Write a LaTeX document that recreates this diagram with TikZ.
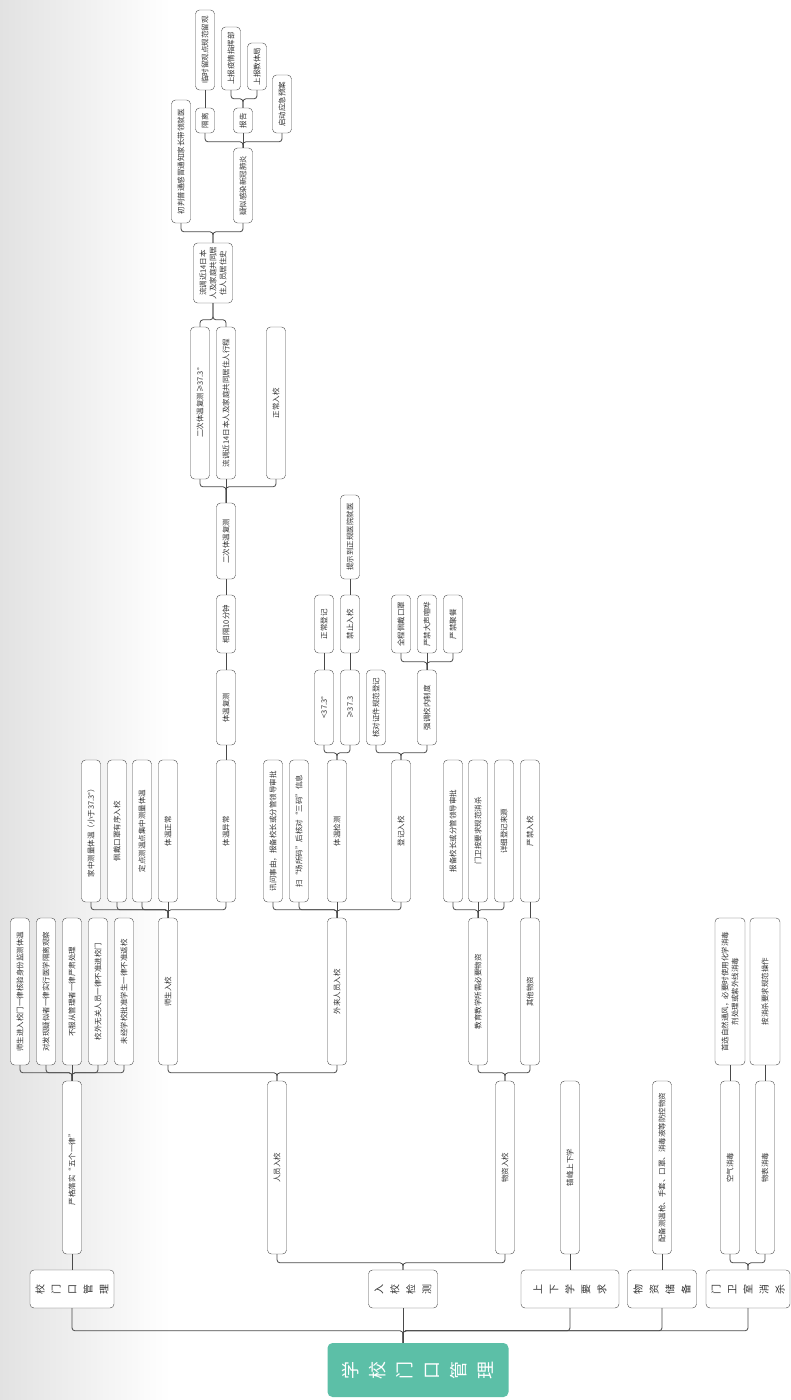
\documentclass[tikz,border=0pt]{standalone}
\usepackage{fontspec}
\newfontfamily\cjk{Noto Sans CJK SC}
\definecolor{ink}{HTML}{333333}
\definecolor{linkgray}{HTML}{4A4A4A}
\definecolor{rootgreen}{HTML}{5CBFA7}
\definecolor{shadegray}{HTML}{E2E2E2}
\tikzset{
  leaf/.style={draw=linkgray, rounded corners=4pt, thin, fill=white, rotate=90, align=center, inner sep=2pt, minimum height=19pt, font=\cjk\fontsize{7.5}{10}\selectfont, text=ink},
  wideleaf/.style={leaf, minimum height=30pt},
  topic/.style={leaf, minimum width=38pt, font=\cjk\fontsize{10}{16}\selectfont},
  rootbox/.style={fill=rootgreen, rounded corners=5pt, rotate=90, align=center, minimum width=54pt, minimum height=181pt, font=\cjk\fontsize{18}{27}\selectfont, text=white},
  link/.style={draw=linkgray, line width=0.8pt, rounded corners=3pt}
}
\begin{document}
\begin{tikzpicture}[x=1pt,y=-1pt]
\fill[white] (0,0) rectangle (791,1400);
\shade[left color=shadegray, right color=white] (0,0) rectangle (170,1400);
\useasboundingbox (0,0) rectangle (791,1400);
\node[rootbox] (root) at (418,1370) {学\\校\\门\\口\\管\\理};
\node[topic, minimum height=84pt] (gate) at (72,1289) {校\\门\\口\\管\\理};
\node[topic, minimum height=69pt] (check) at (403,1289) {入\\校\\检\\测};
\node[topic, minimum height=98pt] (commute) at (570,1289) {上\\下\\学\\要\\求};
\node[topic, minimum height=69pt] (stock) at (662,1289) {物\\资\\储\\备};
\node[topic, minimum height=84pt] (guard) at (748,1289) {门\\卫\\室\\消\\杀};
\draw[link] (check.west |- root.east) -- (check.west);
\draw[link] (check.west |- root.east) -- ++(0,-12) -| (gate.west);
\draw[link] (check.west |- root.east) -- ++(0,-12) -| (commute.west);
\draw[link] (check.west |- root.east) -- ++(0,-12) -| (stock.west);
\draw[link] (check.west |- root.east) -- ++(0,-12) -| (guard.west);
\node[leaf, minimum width=173pt] (rule5) at (72,1167.5) {严格落实“五个一律”};
\node[leaf, minimum width=173pt] (people) at (277,1167.5) {人员入校};
\node[leaf, minimum width=173pt] (goods) at (505,1167.5) {物资入校};
\node[leaf, minimum width=173pt] (stagger) at (570,1167.5) {错峰上下学};
\node[leaf, minimum width=173pt] (kit) at (662,1167.5) {配备测温枪、手套、口罩、消毒液等防控物资};
\node[leaf, minimum width=173pt] (air) at (730,1167.5) {空气消毒};
\node[leaf, minimum width=173pt] (surf) at (765,1167.5) {物表消毒};
\draw[link] (gate.east) -- (rule5.west); \draw[link] (commute.east) -- (stagger.west); \draw[link] (stock.east) -- (kit.west);
\draw[link] (check.east) -- ++(0,-7) -| (people.west); \draw[link] (check.east) -- ++(0,-7) -| (goods.west);
\draw[link] (guard.east) -- ++(0,-7) -| (air.west); \draw[link] (guard.east) -- ++(0,-7) -| (surf.west);
\node[leaf, minimum width=147pt] (r1) at (20,991.5) {师生进入校门一律核验身份监测体温};
\node[leaf, minimum width=147pt] (r2) at (46,991.5) {对发现疑似者一律实行医学隔离观察};
\node[leaf, minimum width=147pt] (r3) at (72,991.5) {不服从管理者一律严肃处理};
\node[leaf, minimum width=147pt] (r4) at (98,991.5) {校外无关人员一律不准进校门};
\node[leaf, minimum width=147pt] (r5) at (124,991.5) {未经学校批准学生一律不准返校};
\node[leaf, minimum width=147pt] (teach) at (168,991.5) {师生入校};
\node[leaf, minimum width=147pt] (visitor) at (337,991.5) {外来人员入校};
\node[leaf, minimum width=147pt] (need) at (478,991.5) {教育教学所需必要物资};
\node[leaf, minimum width=147pt] (other) at (530,991.5) {其他物资};
\node[wideleaf, minimum width=147pt] (disinf) at (730,991.5) {首选自然通风，必要时使用化学消毒\\剂处理或紫外线消毒};
\node[wideleaf, minimum width=147pt] (norm) at (765,991.5) {按消杀要求规范操作};
\draw[link] (rule5.east) -- ++(0,-8) -| (r1.west); \draw[link] (rule5.east) -- ++(0,-8) -| (r2.west);
\draw[link] (rule5.east) -- (r3.west);
\draw[link] (rule5.east) -- ++(0,-8) -| (r4.west); \draw[link] (rule5.east) -- ++(0,-8) -| (r5.west);
\draw[link] (people.east) -- ++(0,-8) -| (teach.west); \draw[link] (people.east) -- ++(0,-8) -| (visitor.west);
\draw[link] (goods.east) -- ++(0,-8) -| (need.west); \draw[link] (goods.east) -- ++(0,-8) -| (other.west);
\draw[link] (air.east) -- (disinf.west); \draw[link] (surf.east) -- (norm.west);
\node[leaf, minimum width=142pt] (home) at (91,831) {家中测量体温（小于37.3°）};
\node[leaf, minimum width=142pt] (mask) at (117,831) {佩戴口罩有序入校};
\node[leaf, minimum width=142pt] (point) at (142,831) {定点测温点集中测量体温};
\node[leaf, minimum width=142pt] (normal) at (168,831) {体温正常};
\node[leaf, minimum width=142pt] (abnormal) at (226,831) {体温异常};
\node[leaf, minimum width=142pt] (ask) at (273,831) {讯问事由，报备校长或分管领导审批};
\node[leaf, minimum width=142pt] (scan) at (299,831) {扫“场所码”后核对“三码”信息};
\node[leaf, minimum width=142pt] (temp) at (337,831) {体温检测};
\node[leaf, minimum width=142pt] (reg) at (401,831) {登记入校};
\node[leaf, minimum width=142pt] (report) at (453,831) {报备校长或分管领导审批};
\node[leaf, minimum width=142pt] (clean) at (478,831) {门卫按要求规范消杀};
\node[leaf, minimum width=142pt] (source) at (504,831) {详细登记来源};
\node[leaf, minimum width=142pt] (ban) at (530,831) {严禁入校};
\draw[link] (teach.east) -- ++(0,-8) -| (home.west); \draw[link] (teach.east) -- ++(0,-8) -| (mask.west);
\draw[link] (teach.east) -- ++(0,-8) -| (point.west); \draw[link] (teach.east) -- (normal.west);
\draw[link] (teach.east) -- ++(0,-8) -| (abnormal.west);
\draw[link] (visitor.east) -- ++(0,-8) -| (ask.west); \draw[link] (visitor.east) -- ++(0,-8) -| (scan.west);
\draw[link] (visitor.east) -- (temp.west); \draw[link] (visitor.east) -- ++(0,-8) -| (reg.west);
\draw[link] (need.east) -- ++(0,-8) -| (report.west); \draw[link] (need.east) -- (clean.west);
\draw[link] (need.east) -- ++(0,-8) -| (source.west); \draw[link] (other.east) -- (ban.west);
\node[leaf, minimum width=75pt] (recheck) at (226,707.5) {体温复测};
\node[leaf, minimum width=58pt] (wait) at (226,624) {相隔10分钟};
\node[leaf, minimum width=76pt] (second) at (226,541) {二次体温复测};
\node[leaf, minimum width=75pt] (low) at (324,707.5) {<37.3°};
\node[leaf, minimum width=75pt] (high) at (350,707.5) {≥37.3};
\node[leaf, minimum width=58pt] (ok) at (324,624) {正常登记};
\node[leaf, minimum width=58pt] (stop) at (350,624) {禁止入校};
\node[leaf, minimum width=84pt] (hosp) at (350,537) {提示到正规医院就医};
\node[leaf, minimum width=75pt] (idcheck) at (376,707.5) {核对证件规范登记};
\node[leaf, minimum width=75pt] (stress) at (427,707.5) {强调校内制度};
\node[leaf, minimum width=58pt] (fullmask) at (401,624) {全程佩戴口罩};
\node[leaf, minimum width=58pt] (quiet) at (427,624) {严禁大声喧哗};
\node[leaf, minimum width=58pt] (nodine) at (453,624) {严禁聚餐};
\draw[link] (abnormal.east) -- (recheck.west); \draw[link] (recheck.east) -- (wait.west); \draw[link] (wait.east) -- (second.west);
\draw[link] (temp.east) -- ++(0,-7) -| (low.west); \draw[link] (temp.east) -- ++(0,-7) -| (high.west);
\draw[link] (low.east) -- (ok.west); \draw[link] (high.east) -- (stop.west); \draw[link] (stop.east) -- (hosp.west);
\draw[link] (reg.east) -- ++(0,-7) -| (idcheck.west); \draw[link] (reg.east) -- ++(0,-7) -| (stress.west);
\draw[link] (stress.east) -- ++(0,-8) -| (fullmask.west); \draw[link] (stress.east) -- (quiet.west);
\draw[link] (stress.east) -- ++(0,-8) -| (nodine.west);
\node[leaf, minimum width=152pt] (hot) at (200,403) {二次体温复测≥37.3°};
\node[leaf, minimum width=152pt] (trace) at (226,403) {流调近14日本人及家庭共同居住人行程};
\node[leaf, minimum width=152pt] (pass) at (276,403) {正常入校};
\node[leaf, minimum width=60pt, minimum height=39pt] (hist) at (213,273) {流调近14日本\\人及家庭共同居\\住人员居住史};
\draw[link] (second.east) -- ++(0,-16) -| (hot.west); \draw[link] (second.east) -- (trace.west);
\draw[link] (second.east) -- ++(0,-16) -| (pass.west);
\draw[link] (hot.east) -- ++(0,-7) -| (hist.west); \draw[link] (trace.east) -- ++(0,-7) -| (hist.west);
\node[leaf, minimum width=123pt] (cold) at (181,161.5) {初判普通感冒通知家长带领就医};
\node[leaf, minimum width=75pt] (susp) at (243,185.5) {疑似感染新冠肺炎};
\node[leaf, minimum width=25pt] (iso) at (205,120.5) {隔离};
\node[leaf, minimum width=25pt] (rep) at (243,120.5) {报告};
\node[leaf, minimum width=58pt] (plan) at (282,104) {启动应急预案};
\node[leaf, minimum width=80pt] (obs) at (205,50) {临时留观点规范留观};
\node[leaf, minimum width=63pt] (hq) at (231,58.5) {上报疫情指挥部};
\node[leaf, minimum width=47pt] (bureau) at (257,66.5) {上报教体局};
\draw[link] (hist.east) -- ++(0,-11) -| (cold.west); \draw[link] (hist.east) -- ++(0,-11) -| (susp.west);
\draw[link] (susp.east) -- ++(0,-6) -| (iso.west); \draw[link] (susp.east) -- (rep.west);
\draw[link] (susp.east) -- ++(0,-6) -| (plan.west);
\draw[link] (iso.east) -- (obs.west);
\draw[link] (rep.east) -- ++(0,-9) -| (hq.west); \draw[link] (rep.east) -- ++(0,-9) -| (bureau.west);
\end{tikzpicture}
\end{document}
